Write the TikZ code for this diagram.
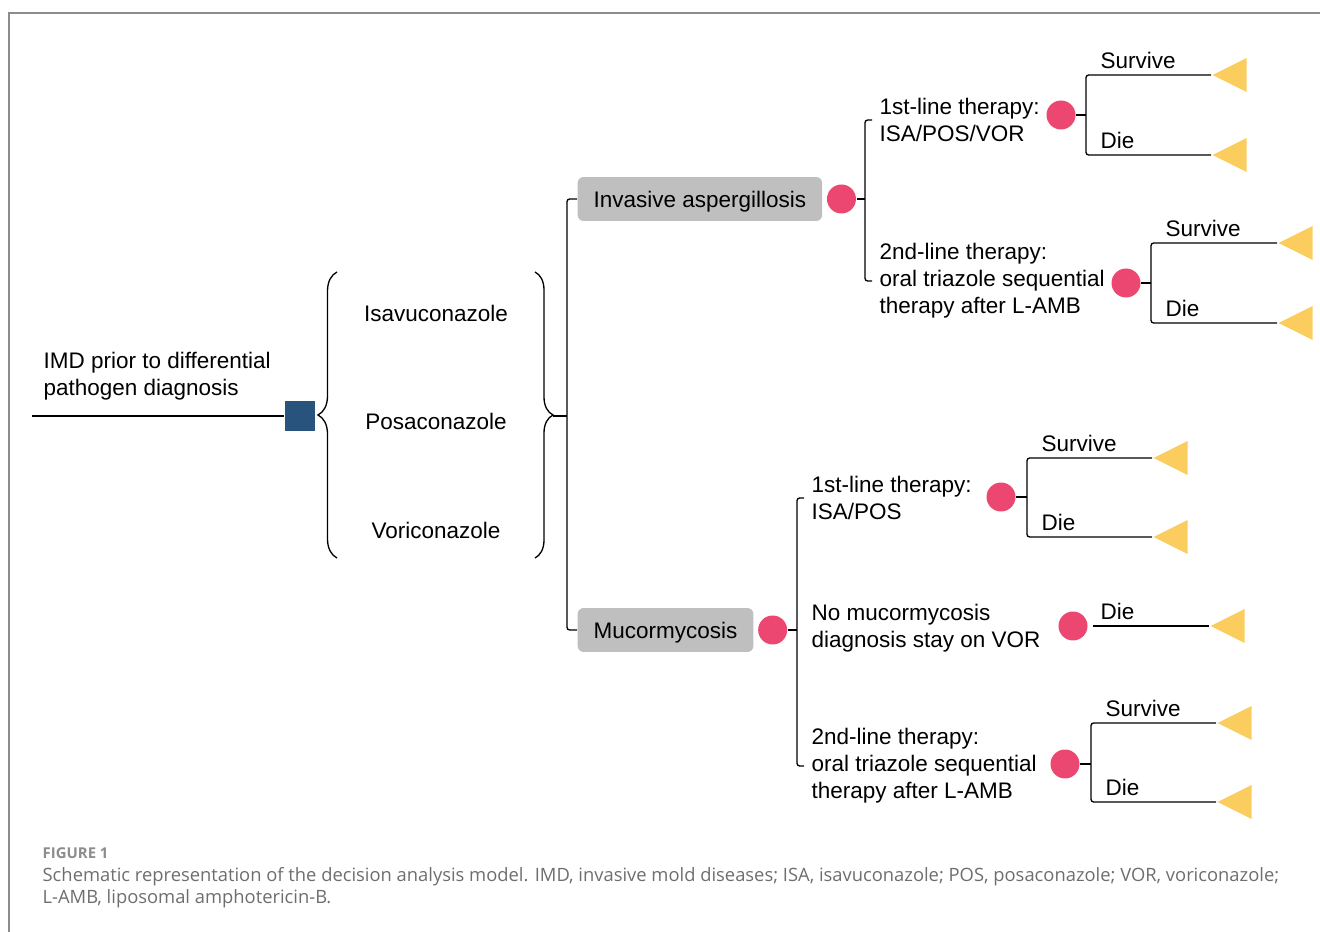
\documentclass[tikz,border=0pt]{standalone}
\usepackage{fontspec}
\setmainfont{Liberation Sans}
\newfontfamily\capfont{Open Sans}
\usepackage{xcolor}
\usetikzlibrary{shapes,positioning,decorations.pathreplacing}

\definecolor{decblue}{HTML}{27537D}
\definecolor{chancered}{HTML}{EB4770}
\definecolor{endyellow}{HTML}{FBCD5F}
\definecolor{boxgray}{HTML}{BFBFBF}
\definecolor{framegray}{HTML}{8C8C8C}
\definecolor{capgray}{HTML}{6E6E6E}

\begin{document}
\begin{tikzpicture}[x=0.02cm, y=-0.02cm, line width=0.75pt,
    txt/.style={font=\fontsize{12.8}{15.4}\selectfont, inner sep=0.14cm, align=left},
    decision/.style={fill=decblue, minimum size=0.6cm, inner sep=0},
    chance/.style={circle, fill=chancered, minimum size=0.58cm, inner sep=0},
    terminal/.style={isosceles triangle, isosceles triangle stretches, shape border rotate=180,
        fill=endyellow, minimum width=0.68cm, minimum height=0.68cm, inner sep=0},
    disease/.style={txt, fill=boxgray, rounded corners=0.12cm, minimum height=0.88cm, inner xsep=0.32cm, text depth=0pt},
    bracket/.style={rounded corners=1.5pt}]
    \useasboundingbox (0,0) rectangle (1320,932);

    % Frame
    \draw[framegray, line width=0.9pt] (9,932) -- (9,13) -- (1320,13);

    % Root
    \coordinate (start) at (32,416);
    \node[decision] (dec) at (300,416) {};
    \node[txt, anchor=west] (imd) at (36,376) {IMD prior to differential\\pathogen diagnosis};
    \draw (start) -- (dec);

    % Prophylaxis
    \draw[decorate, decoration={brace, amplitude=0.38cm}] (337,558) -- (337,272);
    \node[txt] (isa) at (436,313) {Isavuconazole};
    \node[txt] (pos) at (436,421) {Posaconazole};
    \node[txt] (vor) at (436,530) {Voriconazole};
    \draw[decorate, decoration={brace, amplitude=0.36cm}] (535,272) -- (535,558);

    % Diagnosis
    \node[disease, anchor=west] (ia) at (577,199) {Invasive aspergillosis};
    \node[disease, anchor=west] (muc) at (577,630) {Mucormycosis};
    \coordinate (rb) at (553,416);
    \coordinate (jdx) at (567,416);
    \draw (rb) -- (jdx);
    \draw[bracket] (ia.west) -- ++(-10,0) |- (muc.west);
    \node[chance, right=0.07cm of ia] (cia) {};
    \node[chance, right=0.07cm of muc] (cmuc) {};

    % Invasive aspergillosis
    \node[txt, anchor=west] (ia1) at (872,120) {1st-line therapy:\\ISA/POS/VOR};
    \node[txt, anchor=west] (ia2) at (872,281) {2nd-line therapy:\\oral triazole sequential\\therapy after L-AMB};
    \coordinate (jia) at (865,199);
    \draw (cia) -- (jia);
    \draw[bracket] (ia1.west) -- ++(-7,0) |- (ia2.west);

    % Mucormycosis
    \node[txt, anchor=west] (muc1) at (804,498) {1st-line therapy:\\ISA/POS};
    \node[txt, anchor=west] (muc2) at (804,628) {No mucormycosis\\diagnosis stay on VOR};
    \node[txt, anchor=west] (muc3) at (804,766) {2nd-line therapy:\\oral triazole sequential\\therapy after L-AMB};
    \coordinate (jmuc) at (797,630);
    \draw (cmuc) -- (jmuc);
    \draw[bracket] (muc1.west) -- ++(-7,0) |- (muc3.west);

    % Survive / die
    \foreach \n/\cx/\cy/\bx/\tx/\ys/\yd in {ia1/1061/115/1086/1211/75/155,
        ia2/1126/283/1151/1277/243/323, muc1/1001/497/1027/1152/458/537,
        muc3/1065/764/1091/1216/723/802} {
        \node[chance] (c\n) at (\cx,\cy) {};
        \node[terminal, anchor=apex] (s\n) at (\tx,\ys) {};
        \node[terminal, anchor=apex] (d\n) at (\tx,\yd) {};
        \coordinate (b\n) at (\bx,\cy);
        \draw (c\n) -- (b\n);
        \draw[bracket] (s\n.apex) -| (b\n) |- (d\n.apex);
        \node[txt, anchor=west] (ls\n) at (\bx+7,\ys-15) {Survive};
        \node[txt, anchor=west] (ld\n) at (\bx+7,\yd-15) {Die};
    }

    % No mucormycosis: die only
    \node[chance] (cmuc2) at (1073,626) {};
    \node[terminal, anchor=apex] (dmuc2) at (1209,626) {};
    \draw[shorten <=0.1cm] (cmuc2) -- (dmuc2.apex);
    \node[txt, anchor=west] (ldmuc2) at (1093,611) {Die};

    % Caption
    \node[anchor=west, inner sep=0, text=framegray, font=\capfont\fontsize{8.5}{10}\selectfont\bfseries] (fig) at (42,853) {FIGURE 1};
    \node[anchor=west, inner sep=0, text=capgray, align=left, font=\capfont\fontsize{10.45}{12.5}\selectfont] (cap) at (42,888)
        {Schematic representation of the decision analysis model. IMD, invasive mold diseases; ISA, isavuconazole; POS, posaconazole; VOR, voriconazole;\\L-AMB, liposomal amphotericin-B.};
\end{tikzpicture}
\end{document}
